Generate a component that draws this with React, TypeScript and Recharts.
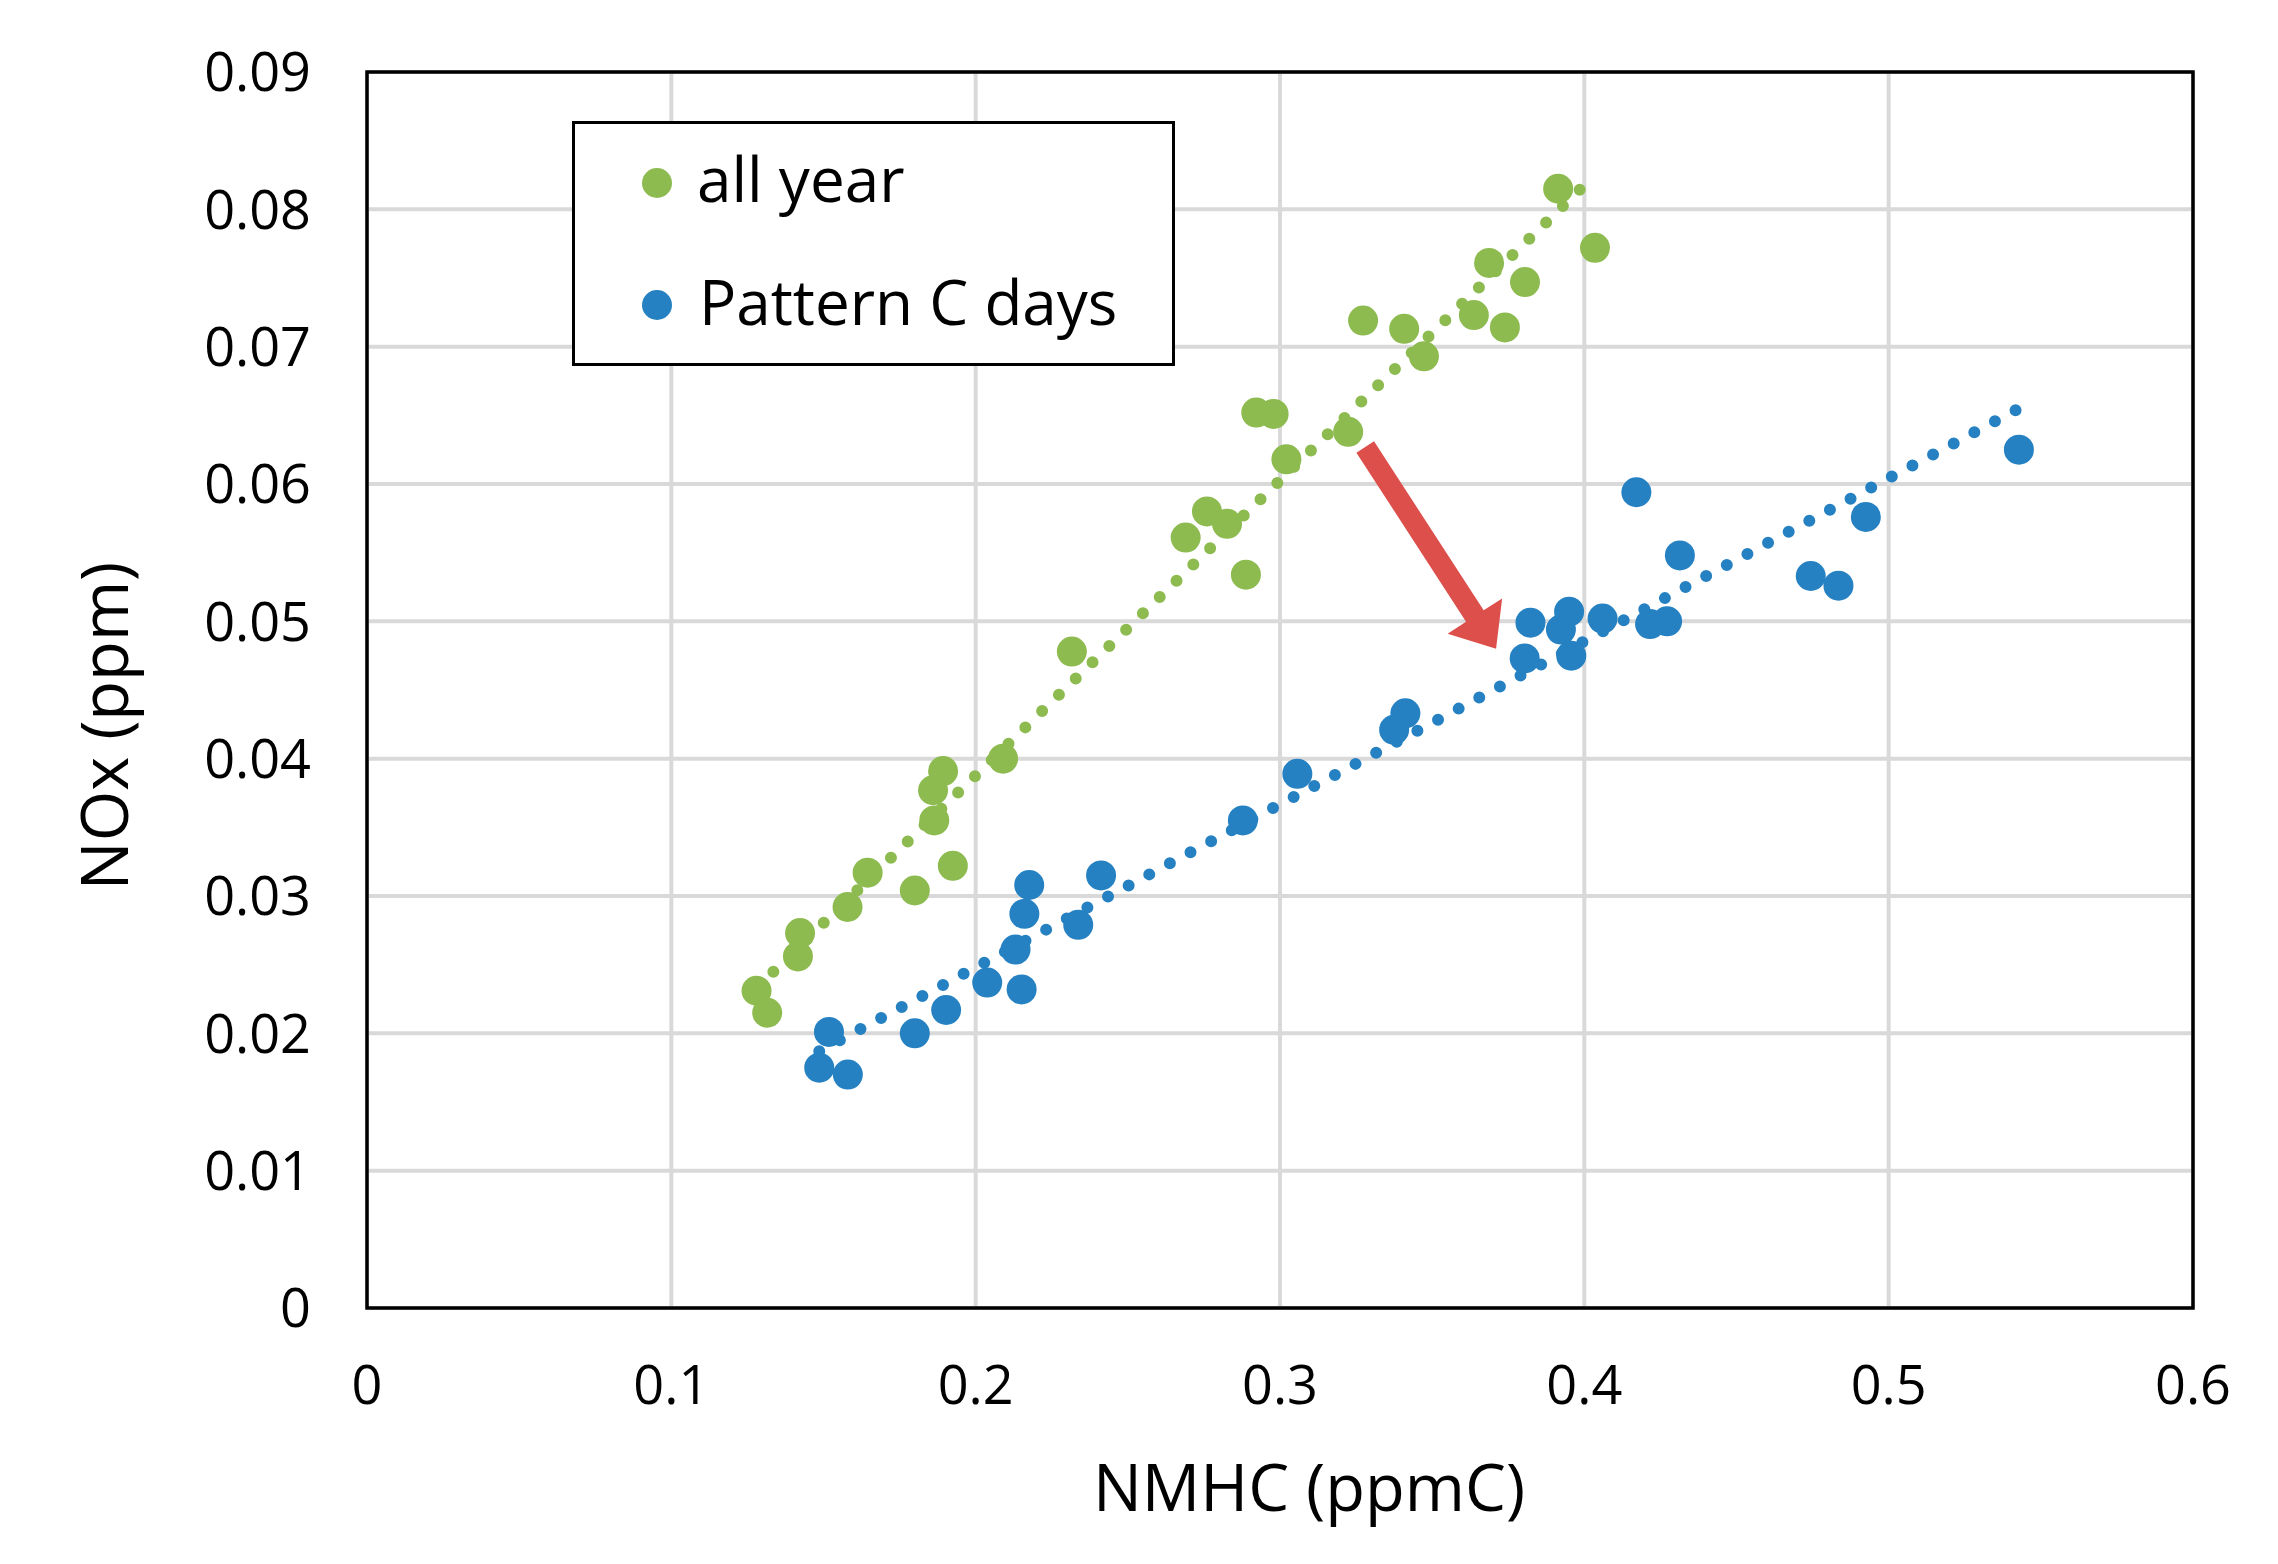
import React from 'react';
import {
  ScatterChart,
  Scatter,
  XAxis,
  YAxis,
  CartesianGrid,
  ReferenceLine,
  ReferenceArea,
  Label,
} from 'recharts';

// all year
const allYearX = [
  0.128, 0.1315, 0.1423, 0.1416, 0.1579, 0.1645, 0.18, 0.186, 0.1864, 0.1893,
  0.1925, 0.209, 0.2316, 0.269, 0.276, 0.2826, 0.2888, 0.2922, 0.2979, 0.3021,
  0.3224, 0.3273, 0.3408, 0.3473, 0.3637, 0.3687, 0.3739, 0.3805, 0.3914, 0.4035,
];
const allYearY = [
  0.0231, 0.0215, 0.0273, 0.0256, 0.0292, 0.0317, 0.0304, 0.0377, 0.0355, 0.0391,
  0.0322, 0.04, 0.0478, 0.0561, 0.058, 0.0571, 0.0534, 0.0652, 0.0651, 0.0618,
  0.0638, 0.0719, 0.0713, 0.0693, 0.0723, 0.0761, 0.0714, 0.0747, 0.0815, 0.0772,
];

// Pattern C days
const patternCX = [
  0.1486, 0.1518, 0.158, 0.18, 0.1903, 0.2038, 0.2131, 0.2151, 0.216, 0.2176,
  0.2337, 0.2412, 0.2878, 0.3057, 0.3375, 0.3412, 0.3804, 0.3823, 0.3923, 0.395,
  0.3957, 0.406, 0.4171, 0.4216, 0.4272, 0.4314, 0.4744, 0.4835, 0.4925, 0.5428,
];
const patternCY = [
  0.0175, 0.0201, 0.017, 0.02, 0.0217, 0.0237, 0.0261, 0.0232, 0.0287, 0.0308,
  0.0279, 0.0315, 0.0355, 0.0389, 0.0421, 0.0433, 0.0473, 0.0499, 0.0494, 0.0507,
  0.0475, 0.0502, 0.0594, 0.0498, 0.05, 0.0548, 0.0533, 0.0526, 0.0576, 0.0625,
];

// linear trendline ends
const allYearTrendX = [0.128, 0.4035];
const allYearTrendY = [0.0233, 0.0825];
const patternCTrendX = [0.1486, 0.5428];
const patternCTrendY = [0.0187, 0.0655];

// red arrow (tail, head)
const arrowX = [0.328, 0.371];
const arrowY = [0.0627, 0.048];

const xTicks = [0, 0.1, 0.2, 0.3, 0.4, 0.5, 0.6];
const yTicks = [0, 0.01, 0.02, 0.03, 0.04, 0.05, 0.06, 0.07, 0.08, 0.09];

const GREEN = '#8DBB50';
const BLUE = '#2581C2';
const RED = '#DD4F4B';
const FONT = '"Open Sans", "Noto Sans", sans-serif';

const toPoints = (xs: number[], ys: number[]) => xs.map((x, i) => ({ x, y: ys[i] }));

const allYearData = toPoints(allYearX, allYearY);
const patternCData = toPoints(patternCX, patternCY);
const allYearTrend = toPoints(allYearTrendX, allYearTrendY);
const patternCTrend = toPoints(patternCTrendX, patternCTrendY);
const arrowSeg = toPoints(arrowX, arrowY);

const dot = (color: string) => (props: any) => (
  <circle cx={props.cx} cy={props.cy} r={15} fill={color} />
);

const dottedLine = (color: string) => (props: any) => (
  <line
    x1={props.x1}
    y1={props.y1}
    x2={props.x2}
    y2={props.y2}
    stroke={color}
    strokeWidth={12}
    strokeLinecap="round"
    strokeDasharray="0 23.4"
  />
);

const BlockArrow = (props: any) => {
  const { x1, y1, x2, y2 } = props;
  const dx = x2 - x1;
  const dy = y2 - y1;
  const len = Math.sqrt(dx * dx + dy * dy) || 1;
  const ux = dx / len;
  const uy = dy / len;
  const nx = -uy;
  const ny = ux;
  const shaft = 10.5;
  const head = 32.5;
  const headLen = 39;
  const bx = x2 - ux * headLen;
  const by = y2 - uy * headLen;
  const pts = [
    [x1 + nx * shaft, y1 + ny * shaft],
    [bx + nx * shaft, by + ny * shaft],
    [bx + nx * head, by + ny * head],
    [x2, y2],
    [bx - nx * head, by - ny * head],
    [bx - nx * shaft, by - ny * shaft],
    [x1 - nx * shaft, y1 - ny * shaft],
  ];
  return <polygon points={pts.map((p) => p.join(',')).join(' ')} fill={RED} />;
};

const XTitle = (props: any) => {
  const vb = props.viewBox || { x: 367, y: 1308, width: 1826, height: 256 };
  return (
    <text
      x={vb.x + vb.width / 2 + 29}
      y={vb.y + 203}
      textAnchor="middle"
      fontSize={65}
      fontFamily={FONT}
      fill="#000"
    >
      NMHC (ppmC)
    </text>
  );
};

const YTitle = (props: any) => {
  const vb = props.viewBox || { x: 0, y: 72, width: 367, height: 1236 };
  const x = vb.x + 128;
  const y = vb.y + vb.height / 2 + 36;
  return (
    <text
      x={x}
      y={y}
      transform={`rotate(-90, ${x}, ${y})`}
      textAnchor="middle"
      fontSize={65}
      fontFamily={FONT}
      fill="#000"
    >
      NOx (ppm)
    </text>
  );
};

const LegendBox = () => (
  <div
    style={{
      position: 'absolute',
      left: 572,
      top: 121,
      width: 603,
      height: 245,
      boxSizing: 'border-box',
      border: '3.5px solid #000',
      background: '#fff',
    }}
  >
    <svg width={596} height={238} style={{ display: 'block' }}>
      <circle cx={82} cy={59} r={15} fill={GREEN} />
      <text x={122} y={78} fontSize={62} fontFamily={FONT} fill="#000">
        all year
      </text>
      <circle cx={82} cy={181} r={15} fill={BLUE} />
      <text x={124} y={201} fontSize={62} fontFamily={FONT} fill="#000">
        Pattern C days
      </text>
    </svg>
  </div>
);

const tickStyle = { fontSize: 54, fill: '#000', fontFamily: FONT };

export default function App() {
  return (
    <div
      style={{
        position: 'absolute',
        left: 0,
        top: 0,
        width: 2278,
        height: 1564,
        background: '#fff',
        fontFamily: FONT,
      }}
    >
      <ScatterChart width={2278} height={1564} margin={{ top: 72, right: 85, bottom: 0, left: 0 }}>
        <CartesianGrid stroke="#D9D9D9" strokeWidth={4} />
        <XAxis
          type="number"
          dataKey="x"
          domain={[0, 0.6]}
          ticks={xTicks}
          tickFormatter={(v) => String(v)}
          axisLine={false}
          tickLine={false}
          tickSize={0}
          tickMargin={58}
          height={256}
          tick={tickStyle}
          interval={0}
          label={<Label content={XTitle} />}
        />
        <YAxis
          type="number"
          dataKey="y"
          domain={[0, 0.09]}
          ticks={yTicks}
          tickFormatter={(v) => String(v)}
          axisLine={false}
          tickLine={false}
          tickSize={0}
          tickMargin={56}
          width={367}
          tick={tickStyle}
          interval={0}
          label={<Label content={YTitle} />}
        />
        <ReferenceArea
          x1={0}
          x2={0.6}
          y1={0}
          y2={0.09}
          fill="none"
          stroke="#000"
          strokeWidth={3.5}
          fillOpacity={0}
        />
        <Scatter name="all year" data={allYearData} shape={dot(GREEN)} isAnimationActive={false} />
        <Scatter name="Pattern C days" data={patternCData} shape={dot(BLUE)} isAnimationActive={false} />
        <ReferenceLine
          segment={[allYearTrend[0], allYearTrend[1]]}
          shape={dottedLine(GREEN)}
          ifOverflow="visible"
        />
        <ReferenceLine
          segment={[patternCTrend[0], patternCTrend[1]]}
          shape={dottedLine(BLUE)}
          ifOverflow="visible"
        />
        <ReferenceLine segment={[arrowSeg[0], arrowSeg[1]]} shape={BlockArrow} ifOverflow="visible" />
      </ScatterChart>
      <LegendBox />
    </div>
  );
}
